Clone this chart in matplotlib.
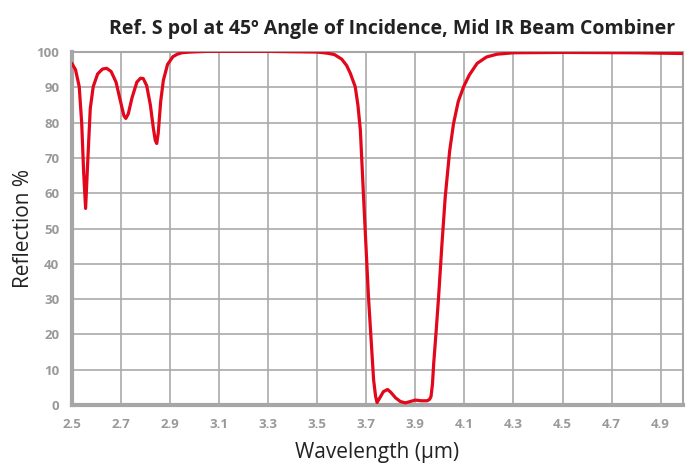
import numpy as np
import matplotlib.pyplot as plt

plt.rcParams['font.family'] = ['Open Sans', 'DejaVu Sans']

# wavelength (um) and reflection (%)
wavelength = [2.500, 2.515, 2.530, 2.540, 2.548, 2.556, 2.564, 2.575, 2.587, 2.605,
              2.625, 2.642, 2.660, 2.680, 2.700, 2.712, 2.720, 2.730, 2.745, 2.765,
              2.780, 2.791, 2.805, 2.820, 2.832, 2.840, 2.846, 2.852, 2.862, 2.873,
              2.890, 2.912, 2.930, 2.948, 2.980, 3.050, 3.300, 3.500, 3.540, 3.570,
              3.600, 3.620, 3.635, 3.655, 3.666, 3.676, 3.689, 3.709, 3.730, 3.738,
              3.744, 3.755, 3.770, 3.787, 3.800, 3.820, 3.839, 3.859, 3.880, 3.900,
              3.925, 3.948, 3.958, 3.964, 3.970, 3.975, 3.985, 3.995, 4.008, 4.022,
              4.040, 4.056, 4.075, 4.097, 4.120, 4.152, 4.190, 4.233, 4.300, 4.500,
              4.800, 4.990]
reflection = [96.8, 95.0, 90.2, 80.0, 66.0, 55.7, 68.0, 84.0, 90.2, 93.8,
              95.2, 95.4, 94.5, 91.5, 85.5, 82.0, 81.2, 82.5, 87.0, 91.5,
              92.6, 92.5, 90.5, 85.0, 78.5, 75.0, 74.1, 77.0, 86.0, 92.0,
              96.5, 98.7, 99.4, 99.8, 100.0, 100.2, 100.2, 100.0, 99.7, 99.3,
              98.0, 96.2, 94.0, 90.2, 85.0, 77.9, 59.0, 30.7, 7.1, 2.5,
              0.7, 2.0, 3.8, 4.4, 3.6, 2.0, 1.0, 0.6, 1.0, 1.4,
              1.2, 1.2, 1.6, 2.4, 6.0, 11.8, 21.0, 30.7, 45.0, 59.0,
              72.0, 79.8, 86.0, 90.2, 93.5, 96.8, 98.6, 99.4, 99.8, 99.9,
              99.8, 99.6]

x_ticks = np.round(np.arange(2.5, 4.95, 0.2), 1)
y_ticks = np.arange(0, 101, 10)

fig = plt.figure(figsize=(6.91, 4.65), dpi=100)
ax = fig.add_axes([0.104, 0.129, 0.884, 0.759])

ax.plot(wavelength, reflection, color='#e2071a', linewidth=2.3, solid_capstyle='round',
        solid_joinstyle='round', zorder=3)

ax.set_xlim(2.5, 4.99)
ax.set_ylim(0, 100)
ax.set_xticks(x_ticks)
ax.set_xticklabels([f'{t:.1f}' for t in x_ticks])
ax.set_yticks(y_ticks)
ax.grid(True, color='#aaaaaa', linewidth=1.2)
ax.set_axisbelow(True)

for side in ['top', 'right']:
    ax.spines[side].set_color('#a6a6a6')
    ax.spines[side].set_linewidth(1.5)
for side in ['left', 'bottom']:
    ax.spines[side].set_color('#a6a6a6')
    ax.spines[side].set_linewidth(3)

ax.tick_params(length=0, pad=9, labelsize=9.5, labelcolor='#999999')
for lab in ax.get_xticklabels() + ax.get_yticklabels():
    lab.set_fontweight('bold')

ax.set_title('Ref. S pol at 45º Angle of Incidence, Mid IR Beam Combiner',
             fontsize=14, fontweight='bold', color='#222222', pad=13, x=0.525)
ax.set_xlabel('Wavelength (μm)', fontsize=15, color='#222222', labelpad=8)
ax.set_ylabel('Reflection %', fontsize=15, color='#222222', labelpad=2)

fig.savefig('out.png', dpi=100)
